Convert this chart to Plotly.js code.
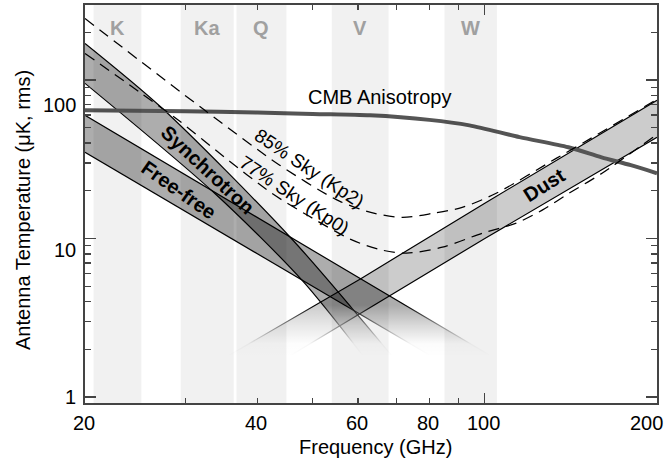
<!DOCTYPE html>
<html>
<head>
<meta charset="utf-8">
<script src="https://cdn.plot.ly/plotly-3.0.1.min.js"></script>
<style>
  html, body { margin: 0; padding: 0; background: #ffffff; }
  #chart { width: 665px; height: 461px; }
</style>
</head>
<body>
<div id="chart"></div>
<script>
// WMAP frequency bands (GHz)
const bandNames = ['K', 'Ka', 'Q', 'V', 'W'];
const bandLo = [20.7, 29.4, 36.8, 54.0, 85.0];
const bandHi = [25.1, 36.4, 45.0, 67.9, 105.0];

// CMB anisotropy, antenna temperature (uK rms)
const cmbFreq = [20, 30, 40, 50, 63, 80, 94, 115, 140, 160, 180, 200];
const cmbTemp = [64.3, 63.5, 62.3, 61.0, 59.8, 56.0, 51.7, 43.6, 37.6, 32.5, 29.0, 25.8];

// Total foreground, 85% sky (Kp2 mask)
const kp2Freq = [20, 32.4, 43.8, 55.7, 64.2, 71.8, 81.0, 91.3, 104.7, 133.3, 152.2, 200];
const kp2Temp = [244, 64.3, 29.0, 17.2, 14.4, 13.6, 14.4, 15.7, 19.3, 32.0, 42.2, 75.5];

// Total foreground, 77% sky (Kp0 mask)
const kp0Freq = [20, 24.9, 29.3, 35.1, 42.4, 49.0, 58.7, 66.2, 73.0, 84.3, 99.0, 113.5, 126, 140.4, 160.3, 200];
const kp0Temp = [147, 84.0, 54.8, 32.5, 19.3, 14.0, 9.76, 8.44, 8.08, 8.81, 10.8, 12.5, 15.1, 19.3, 25.8, 45.4];

// Synchrotron range
const syncHiFreq = [20, 27.2, 45.9, 68.6];
const syncHiTemp = [170, 67, 10.0, 1.84];
const syncLoFreq = [20, 33.7, 47.9, 61.1];
const syncLoTemp = [95.2, 19.3, 5.46, 1.84];

// Free-free range
const ffHiFreq = [20, 101.8];
const ffHiTemp = [59.8, 1.84];
const ffLoFreq = [20, 80.0];
const ffLoTemp = [35.0, 1.84];

// Thermal dust range
const dustHiFreq = [35.8, 60.8, 100, 200];
const dustHiTemp = [1.84, 5.6, 16.7, 74.4];
const dustLoFreq = [45.9, 100, 200];
const dustLoTemp = [1.84, 10.0, 43.5];

// Axis ticks
const xLabelVals = [20, 40, 60, 80, 100, 200];
const xMajorTicks = [100];
const xMinorTicks = [30, 40, 50, 60, 70, 80, 90];
const yLabelVals = [1, 10, 100];
const yMinorTicks = [2, 3, 4, 5, 6, 7, 8, 9, 20, 30, 40, 50, 60, 70, 80, 90, 200];

const X_RANGE = [20, 200];
const Y_RANGE = [0.917, 297];
const FONT = 'Liberation Sans, Arial, Helvetica, sans-serif';
const L10 = Math.log10;

const edge = { color: '#000000', width: 1.2 };
const traces = [];

function band(loF, loT, hiF, hiT, fill, smooth) {
  const shape = smooth ? 'spline' : 'linear';
  traces.push({
    x: loF, y: loT, type: 'scatter', mode: 'lines',
    line: Object.assign({ shape: shape, smoothing: 0.8 }, edge),
    hoverinfo: 'skip', showlegend: false
  });
  traces.push({
    x: hiF, y: hiT, type: 'scatter', mode: 'lines',
    line: Object.assign({ shape: shape, smoothing: 0.8 }, edge),
    fill: 'tonexty', fillcolor: fill,
    hoverinfo: 'skip', showlegend: false
  });
}

band(syncLoFreq, syncLoTemp, syncHiFreq, syncHiTemp, 'rgba(0,0,0,0.32)', true);
band(ffLoFreq, ffLoTemp, ffHiFreq, ffHiTemp, 'rgba(0,0,0,0.32)', false);
band(dustLoFreq, dustLoTemp, dustHiFreq, dustHiTemp, 'rgba(0,0,0,0.2)', false);

// CMB anisotropy
traces.push({
  x: cmbFreq, y: cmbTemp, type: 'scatter', mode: 'lines',
  line: { color: '#555555', width: 4, shape: 'spline', smoothing: 0.8 },
  hoverinfo: 'skip', showlegend: false
});

// Sky-cut foreground totals
[[kp2Freq, kp2Temp], [kp0Freq, kp0Temp]].forEach(function (s) {
  traces.push({
    x: s[0], y: s[1], type: 'scatter', mode: 'lines',
    line: { color: '#000000', width: 1.25, dash: '11px,7px', shape: 'spline', smoothing: 0.8 },
    hoverinfo: 'skip', showlegend: false
  });
});

// White fade at the low end of the foreground bands
traces.push({
  x: [X_RANGE[0], X_RANGE[1], X_RANGE[1], X_RANGE[0]],
  y: [1.80, 1.80, 3.8, 3.8],
  type: 'scatter', mode: 'lines', line: { width: 0 },
  fill: 'toself',
  fillgradient: {
    type: 'vertical',
    colorscale: [
      [0, 'rgba(255,255,255,1)'],
      [0.25, 'rgba(255,255,255,0.96)'],
      [0.6, 'rgba(255,255,255,0.55)'],
      [1, 'rgba(255,255,255,0)']
    ]
  },
  hoverinfo: 'skip', showlegend: false
});

// Frequency band columns (light tint over everything)
bandNames.forEach(function (n, i) {
  traces.push({
    x: [bandLo[i], bandHi[i], bandHi[i], bandLo[i]],
    y: [0.1, 0.1, 10000, 10000],
    type: 'scatter', mode: 'lines', line: { width: 0 },
    fill: 'toself', fillcolor: 'rgba(0,0,0,0.055)',
    hoverinfo: 'skip', showlegend: false
  });
});

const annotations = [];
function note(o) {
  annotations.push(Object.assign({ showarrow: false, font: { family: FONT, size: 20, color: '#000000' } }, o));
}

// Band labels
bandNames.forEach(function (n, i) {
  note({
    text: '<b>' + n + '</b>', xref: 'x', yref: 'paper',
    x: L10(Math.sqrt(bandLo[i] * bandHi[i])), y: 0.942,
    xanchor: 'center', yanchor: 'middle',
    font: { family: FONT, size: 20, color: '#a0a0a0' }
  });
});

// Y tick labels
const yLabelShift = [0, -12, -25];
yLabelVals.forEach(function (v, i) {
  note({
    text: String(v), xref: 'paper', yref: 'y', x: 0, y: L10(v),
    xanchor: 'right', yanchor: 'middle', xshift: -7, yshift: yLabelShift[i]
  });
});

// X tick labels
xLabelVals.forEach(function (v, i) {
  const last = i === xLabelVals.length - 1;
  note({
    text: String(v), xref: 'x', yref: 'paper', x: L10(v), y: 0,
    xanchor: last ? 'right' : 'center', yanchor: 'middle',
    xshift: last ? 8 : -1, yshift: -20
  });
});

// Axis titles
note({ text: 'Frequency (GHz)', xref: 'paper', yref: 'paper', x: 0.507, y: 0,
       xanchor: 'center', yanchor: 'middle', yshift: -44 });
note({ text: 'Antenna Temperature (μK, rms)', xref: 'paper', yref: 'paper', x: 0, y: 0.485,
       xanchor: 'center', yanchor: 'middle', xshift: -62, textangle: -90 });

// Curve labels
note({ text: 'CMB Anisotropy', x: L10(65.5), y: L10(77.7) });
note({ text: '<b>Synchrotron</b>', x: L10(32.8), y: L10(26.9), textangle: 43 });
note({ text: '<b>Free-free</b>', x: L10(29.2), y: L10(20.2), textangle: 35 });
note({ text: '<b>Dust</b>', x: L10(127), y: L10(21.7), textangle: -32 });
note({ text: '85% Sky (Kp2)', x: L10(49.4), y: L10(27.7), textangle: 33.5,
       font: { family: FONT, size: 19, color: '#000000' } });
note({ text: '77% Sky (Kp0)', x: L10(46.5), y: L10(18.7), textangle: 33.5,
       font: { family: FONT, size: 19, color: '#000000' } });

const axisCommon = {
  type: 'log', showline: true, linecolor: '#444444', linewidth: 2,
  mirror: 'ticks', ticks: 'inside', tickcolor: '#444444', tickwidth: 1.3,
  showticklabels: false, showgrid: false, zeroline: false, fixedrange: true
};

const layout = {
  width: 665, height: 461,
  margin: { l: 85, r: 8, t: 5, b: 58 },
  paper_bgcolor: '#ffffff', plot_bgcolor: '#ffffff',
  showlegend: false, hovermode: false,
  font: { family: FONT, size: 20, color: '#000000' },
  xaxis: Object.assign({}, axisCommon, {
    range: [L10(X_RANGE[0]), L10(X_RANGE[1])],
    tickmode: 'array', tickvals: xMajorTicks, ticklen: 10,
    minor: { tickmode: 'array', tickvals: xMinorTicks, ticklen: 5, ticks: 'inside',
             tickcolor: '#444444', tickwidth: 1.3, showgrid: false }
  }),
  yaxis: Object.assign({}, axisCommon, {
    range: [L10(Y_RANGE[0]), L10(Y_RANGE[1])],
    tickmode: 'array', tickvals: yLabelVals, ticklen: 11,
    minor: { tickmode: 'array', tickvals: yMinorTicks, ticklen: 6, ticks: 'inside',
             tickcolor: '#444444', tickwidth: 1.3, showgrid: false }
  }),
  annotations: annotations
};

Plotly.newPlot('chart', traces, layout, { displayModeBar: false, staticPlot: true });
</script>
</body>
</html>
